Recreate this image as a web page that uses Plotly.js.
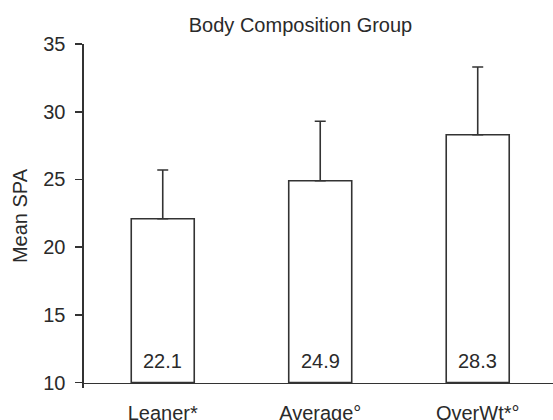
<!DOCTYPE html>
<html>
<head>
<meta charset="utf-8">
<script src="https://cdn.plot.ly/plotly-3.0.1.min.js"></script>
<style>html,body{margin:0;padding:0;background:#fff;}#chart{width:553px;height:420px;}</style>
</head>
<body>
<div id="chart"></div>
<script>
var categories = ["Leaner*", "Average\u00b0", "OverWt*\u00b0"];
var meanSPA = [22.1, 24.9, 28.3];
var errorPlus = [3.6, 4.4, 5.0];
var valueLabels = ["22.1", "24.9", "28.3"];
var yTicks = [10, 15, 20, 25, 30, 35];
var baseValue = 10;

var FONT = "Liberation Sans, Arial, Helvetica, sans-serif";
var INK = "#2a2a2a";
var LINE = "#333333";

var trace = {
  type: "bar",
  x: categories,
  y: meanSPA.map(function (v) { return v - baseValue; }),
  base: baseValue,
  width: 0.4,
  marker: { color: "#ffffff", line: { color: LINE, width: 1.6 } },
  error_y: { type: "data", symmetric: false, array: errorPlus, arrayminus: [0, 0, 0],
             color: LINE, thickness: 1.6, width: 5.5 },
  hoverinfo: "none"
};

var annotations = categories.map(function (c, i) {
  return { x: c, y: baseValue, xref: "x", yref: "y", text: valueLabels[i],
           showarrow: false, yanchor: "bottom", yshift: 9,
           font: { family: FONT, size: 20, color: INK } };
});

var layout = {
  width: 553, height: 420,
  margin: { l: 84, r: 0, t: 44, b: 32, pad: 0 },
  paper_bgcolor: "#ffffff", plot_bgcolor: "#ffffff",
  showlegend: false,
  font: { family: FONT, size: 20, color: INK },
  title: { text: "Body Composition Group", x: 300.5 / 553, xanchor: "center",
           xref: "container", y: 1 - 25 / 420, yref: "container", yanchor: "middle",
           font: { family: FONT, size: 20, color: INK } },
  xaxis: { type: "category", range: [-0.5, 2.478], anchor: "free",
           position: (baseValue - 9.6) / (35 - 9.6),
           showline: true, linecolor: LINE, linewidth: 1.6, ticks: "",
           showgrid: false, zeroline: false, ticklabelstandoff: 12,
           tickfont: { family: FONT, size: 20, color: INK } },
  yaxis: { range: [9.6, 35], tickvals: yTicks, ticks: "outside", ticklen: 7,
           tickwidth: 1.6, tickcolor: LINE, showline: true, linecolor: LINE,
           linewidth: 1.6, showgrid: false, zeroline: false, ticklabelstandoff: 6,
           tickfont: { family: FONT, size: 20, color: INK } ,
           title: { text: "Mean SPA", standoff: 10, font: { family: FONT, size: 20, color: INK } } },
  annotations: annotations
};

Plotly.newPlot("chart", [trace], layout, { displayModeBar: false, staticPlot: true });
</script>
</body>
</html>
